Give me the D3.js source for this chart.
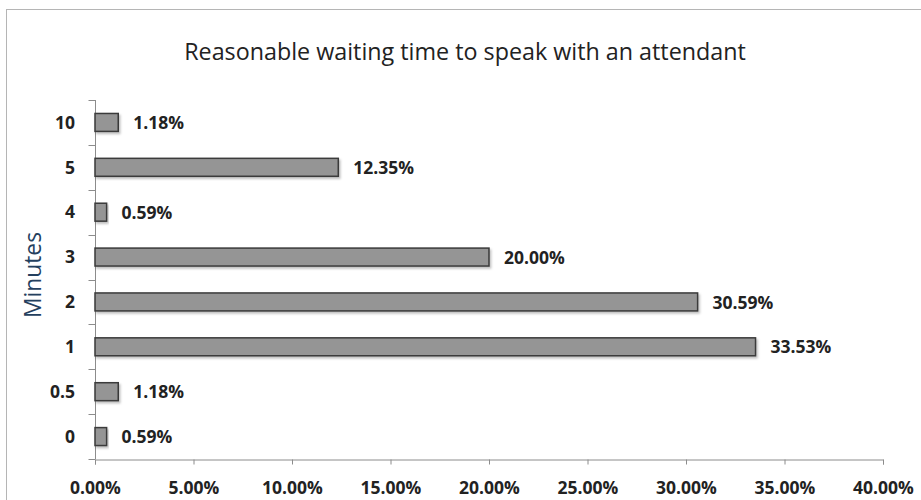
<!DOCTYPE html>
<html>
<head>
<meta charset="utf-8">
<script src="https://cdn.jsdelivr.net/npm/d3@7"></script>
<style>
  html, body { margin: 0; padding: 0; background: #fff; }
  svg { display: block; }
</style>
</head>
<body>
<svg id="chart" width="921" height="500"></svg>
<script>
// Survey answers: waiting time in minutes and share of respondents (%)
const categories = ["10", "5", "4", "3", "2", "1", "0.5", "0"];
const shares = [1.18, 12.35, 0.59, 20.00, 30.59, 33.53, 1.18, 0.59];
const xTicks = [0, 5, 10, 15, 20, 25, 30, 35, 40];

const svg = d3.select("#chart");
const font = "'Open Sans', sans-serif";

// Outer chart frame
svg.append("rect")
  .attr("x", 6.5).attr("y", 9.5)
  .attr("width", 930).attr("height", 510)
  .attr("fill", "#fff").attr("stroke", "#b5b5b5").attr("stroke-width", 1);

const x = d3.scaleLinear().domain([0, 40]).range([95, 883]);
const y = d3.scaleBand().domain(categories).range([100, 459]).paddingInner(0.6).paddingOuter(0.3);

// Soft drop shadow under the bars
const defs = svg.append("defs");
const f = defs.append("filter").attr("id", "shadow").attr("x", "-10%").attr("y", "-30%").attr("width", "130%").attr("height", "180%");
f.append("feDropShadow").attr("dx", 1.5).attr("dy", 2).attr("stdDeviation", 1.2)
  .attr("flood-color", "#000").attr("flood-opacity", 0.25);

// Title
svg.append("text")
  .attr("x", 465).attr("y", 60)
  .attr("text-anchor", "middle")
  .attr("font-family", font).attr("font-size", 23.3)
  .attr("fill", "#222")
  .text("Reasonable waiting time to speak with an attendant");

// Y axis title
svg.append("text")
  .attr("transform", "translate(41,275) rotate(-90)")
  .attr("text-anchor", "middle")
  .attr("font-family", font).attr("font-size", 22.8)
  .attr("fill", "#24405e")
  .text("Minutes");

// X axis
const xAxis = svg.append("g")
  .attr("transform", "translate(0,459.5)")
  .call(d3.axisBottom(x).tickValues(xTicks).tickSize(5).tickPadding(17)
    .tickFormat(d => d.toFixed(2) + "%"));
xAxis.select(".domain").attr("stroke", "#8c8c8c");
xAxis.selectAll(".tick line").attr("stroke", "#8c8c8c");
xAxis.selectAll("text")
  .attr("font-family", font).attr("font-size", 17.5).attr("font-weight", "bold")
  .attr("fill", "#222");

// Y axis: ticks sit on band boundaries
const yAxis = svg.append("g").attr("transform", "translate(95.5,0)");
yAxis.append("line")
  .attr("x1", 0).attr("x2", 0).attr("y1", 100).attr("y2", 459)
  .attr("stroke", "#8c8c8c");
const boundaries = d3.range(categories.length + 1).map(i => 100 + i * (359 / categories.length));
yAxis.selectAll("line.tk").data(boundaries).join("line").attr("class", "tk")
  .attr("x1", -7).attr("x2", 0)
  .attr("y1", d => Math.round(d) + 0.5).attr("y2", d => Math.round(d) + 0.5)
  .attr("stroke", "#8c8c8c");
yAxis.selectAll("text").data(categories).join("text")
  .attr("x", -20.5)
  .attr("y", d => y(d) + y.bandwidth() / 2)
  .attr("dy", "0.36em")
  .attr("text-anchor", "end")
  .attr("font-family", font).attr("font-size", 17.5).attr("font-weight", "bold")
  .attr("fill", "#222")
  .text(d => d);

// Bars
svg.append("g").selectAll("rect").data(categories).join("rect")
  .attr("x", x(0))
  .attr("y", d => y(d))
  .attr("width", (d, i) => x(shares[i]) - x(0))
  .attr("height", y.bandwidth())
  .attr("fill", "#959595")
  .attr("stroke", "#3a3a3a").attr("stroke-width", 1.5)
  .attr("filter", "url(#shadow)");

// Value labels
svg.append("g").selectAll("text").data(categories).join("text")
  .attr("x", (d, i) => x(shares[i]) + 15)
  .attr("y", d => y(d) + y.bandwidth() / 2)
  .attr("dy", "0.38em")
  .attr("font-family", font).attr("font-size", 17.5).attr("font-weight", "bold")
  .attr("fill", "#222")
  .text((d, i) => shares[i].toFixed(2) + "%");
</script>
</body>
</html>
